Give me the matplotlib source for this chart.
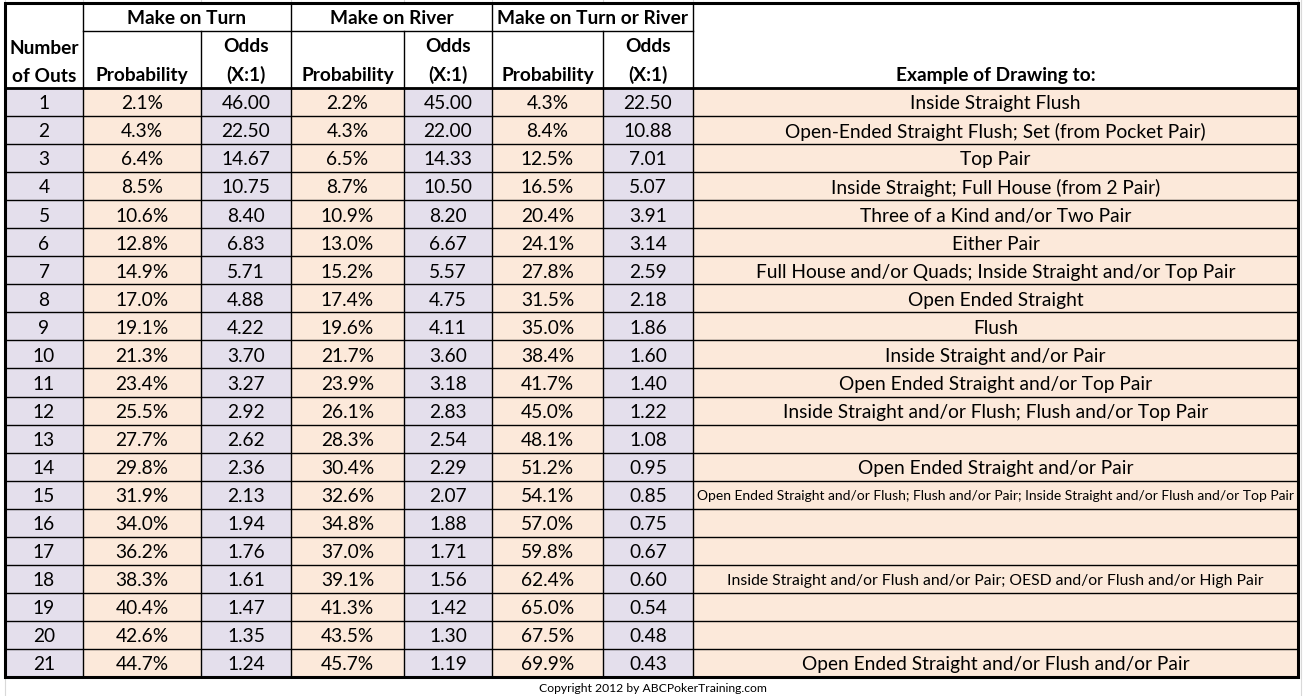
import matplotlib
matplotlib.use("Agg")
import matplotlib.pyplot as plt
from matplotlib.patches import Rectangle

outs = list(range(1, 22))
turn_prob = [2.1, 4.3, 6.4, 8.5, 10.6, 12.8, 14.9, 17.0, 19.1, 21.3, 23.4,
             25.5, 27.7, 29.8, 31.9, 34.0, 36.2, 38.3, 40.4, 42.6, 44.7]
turn_odds = [46.00, 22.50, 14.67, 10.75, 8.40, 6.83, 5.71, 4.88, 4.22, 3.70, 3.27,
             2.92, 2.62, 2.36, 2.13, 1.94, 1.76, 1.61, 1.47, 1.35, 1.24]
river_prob = [2.2, 4.3, 6.5, 8.7, 10.9, 13.0, 15.2, 17.4, 19.6, 21.7, 23.9,
              26.1, 28.3, 30.4, 32.6, 34.8, 37.0, 39.1, 41.3, 43.5, 45.7]
river_odds = [45.00, 22.00, 14.33, 10.50, 8.20, 6.67, 5.57, 4.75, 4.11, 3.60, 3.18,
              2.83, 2.54, 2.29, 2.07, 1.88, 1.71, 1.56, 1.42, 1.30, 1.19]
both_prob = [4.3, 8.4, 12.5, 16.5, 20.4, 24.1, 27.8, 31.5, 35.0, 38.4, 41.7,
             45.0, 48.1, 51.2, 54.1, 57.0, 59.8, 62.4, 65.0, 67.5, 69.9]
both_odds = [22.50, 10.88, 7.01, 5.07, 3.91, 3.14, 2.59, 2.18, 1.86, 1.60, 1.40,
             1.22, 1.08, 0.95, 0.85, 0.75, 0.67, 0.60, 0.54, 0.48, 0.43]
examples = [
    "Inside Straight Flush",
    "Open-Ended Straight Flush; Set (from Pocket Pair)",
    "Top Pair",
    "Inside Straight; Full House (from 2 Pair)",
    "Three of a Kind and/or Two Pair",
    "Either Pair",
    "Full House and/or Quads; Inside Straight and/or Top Pair",
    "Open Ended Straight",
    "Flush",
    "Inside Straight and/or Pair",
    "Open Ended Straight and/or Top Pair",
    "Inside Straight and/or Flush; Flush and/or Top Pair",
    "",
    "Open Ended Straight and/or Pair",
    "Open Ended Straight and/or Flush; Flush and/or Pair; Inside Straight and/or Flush and/or Top Pair",
    "",
    "",
    "Inside Straight and/or Flush and/or Pair; OESD and/or Flush and/or High Pair",
    "",
    "",
    "Open Ended Straight and/or Flush and/or Pair",
]
group_headers = ["Make on Turn", "Make on River", "Make on Turn or River"]
sub_headers = ["Probability", "Odds\n(X:1)"]
first_header = "Number\nof Outs"
example_header = "Example of Drawing to:"
copyright_text = "Copyright 2012 by ABCPokerTraining.com"

# layout (pixels)
W, H = 1304, 696
col_x = [5, 83, 201, 291, 404, 492, 603, 693, 1298]
top, mid, head_bot = 3, 31, 88
row_h = (677 - head_bot) / 21

PEACH = "#FCE9DA"
LAV = "#E4DFEC"
FONT = "Lato"
FS = 13.8
# font size overrides for the example column (row index -> size)
example_fs = {14: 10.0, 17: 11.3}

fig = plt.figure(figsize=(W / 100, H / 100), dpi=100)
ax = fig.add_axes([0, 0, 1, 1])
ax.set_xlim(0, W)
ax.set_ylim(H, 0)
ax.axis("off")

# faint spreadsheet gridlines outside the table
for x in col_x:
    ax.plot([x, x], [0, top], color="#D9D9D9", lw=0.8)
ax.plot([5, 5], [677, H], color="#D9D9D9", lw=0.8)
ax.plot([1301, 1301], [0, H], color="#D9D9D9", lw=0.8)

col_values = [outs, turn_prob, turn_odds, river_prob, river_odds, both_prob, both_odds, examples]
col_colors = [LAV, PEACH, LAV, PEACH, LAV, PEACH, LAV, PEACH]

for r in range(21):
    y0 = head_bot + r * row_h
    yc = y0 + row_h / 2 + 1.8
    for c in range(8):
        x0, x1 = col_x[c], col_x[c + 1]
        ax.add_patch(Rectangle((x0, y0), x1 - x0, row_h, facecolor=col_colors[c],
                               edgecolor="none", zorder=1))
        v = col_values[c][r]
        fs = FS
        if c == 0:
            s = str(v)
        elif c in (1, 3, 5):
            s = f"{v:.1f}%"
        elif c == 7:
            s = v
            fs = example_fs.get(r, FS)
        else:
            s = f"{v:.2f}"
        ax.text((x0 + x1) / 2, yc, s, ha="center", va="center", fontsize=fs,
                family=FONT, color="black", zorder=3)
    ax.plot([col_x[0], col_x[-1]], [y0, y0], color="black", lw=1.0, zorder=2)

# vertical gridlines in body
for x in col_x[1:-1]:
    ax.plot([x, x], [head_bot, 677], color="black", lw=1.0, zorder=2)

# header lines
for x in [83, 291, 492, 693]:
    ax.plot([x, x], [top, head_bot], color="black", lw=1.0, zorder=2)
for x in [201, 404, 603]:
    ax.plot([x, x], [mid, head_bot], color="black", lw=1.0, zorder=2)
ax.plot([83, 693], [mid, mid], color="black", lw=1.0, zorder=2)

# thick borders
ax.plot([col_x[0], col_x[-1]], [head_bot, head_bot], color="black", lw=2.0, zorder=4)
ax.add_patch(Rectangle((col_x[0], top), col_x[-1] - col_x[0], 677 - top,
                       facecolor="none", edgecolor="black", lw=2.2, zorder=5))

# header text
hkw = dict(family=FONT, fontweight="bold", fontsize=FS, color="black", zorder=3)
l1, l2 = first_header.split("\n")
ax.text((col_x[0] + col_x[1]) / 2, 48, l1, ha="center", va="center", **hkw)
ax.text((col_x[0] + col_x[1]) / 2, 76, l2, ha="center", va="center", **hkw)
for g, name in enumerate(group_headers):
    x0, x1 = col_x[1 + 2 * g], col_x[3 + 2 * g]
    ax.text((x0 + x1) / 2, 19, name, ha="center", va="center", **hkw)
    px0, px1 = col_x[1 + 2 * g], col_x[2 + 2 * g]
    ax.text((px0 + px1) / 2, 76, sub_headers[0], ha="center", va="center", **hkw)
    ox0, ox1 = col_x[2 + 2 * g], col_x[3 + 2 * g]
    o1, o2 = sub_headers[1].split("\n")
    ax.text((ox0 + ox1) / 2, 46.5, o1, ha="center", va="center", **hkw)
    ax.text((ox0 + ox1) / 2, 75, o2, ha="center", va="center", **hkw)
ax.text((col_x[7] + col_x[8]) / 2, 76, example_header, ha="center", va="center", **hkw)

ax.text(653, 688, copyright_text, ha="center", va="center", fontsize=8.7,
        family=FONT, color="black")

fig.savefig("out.png", dpi=100)
